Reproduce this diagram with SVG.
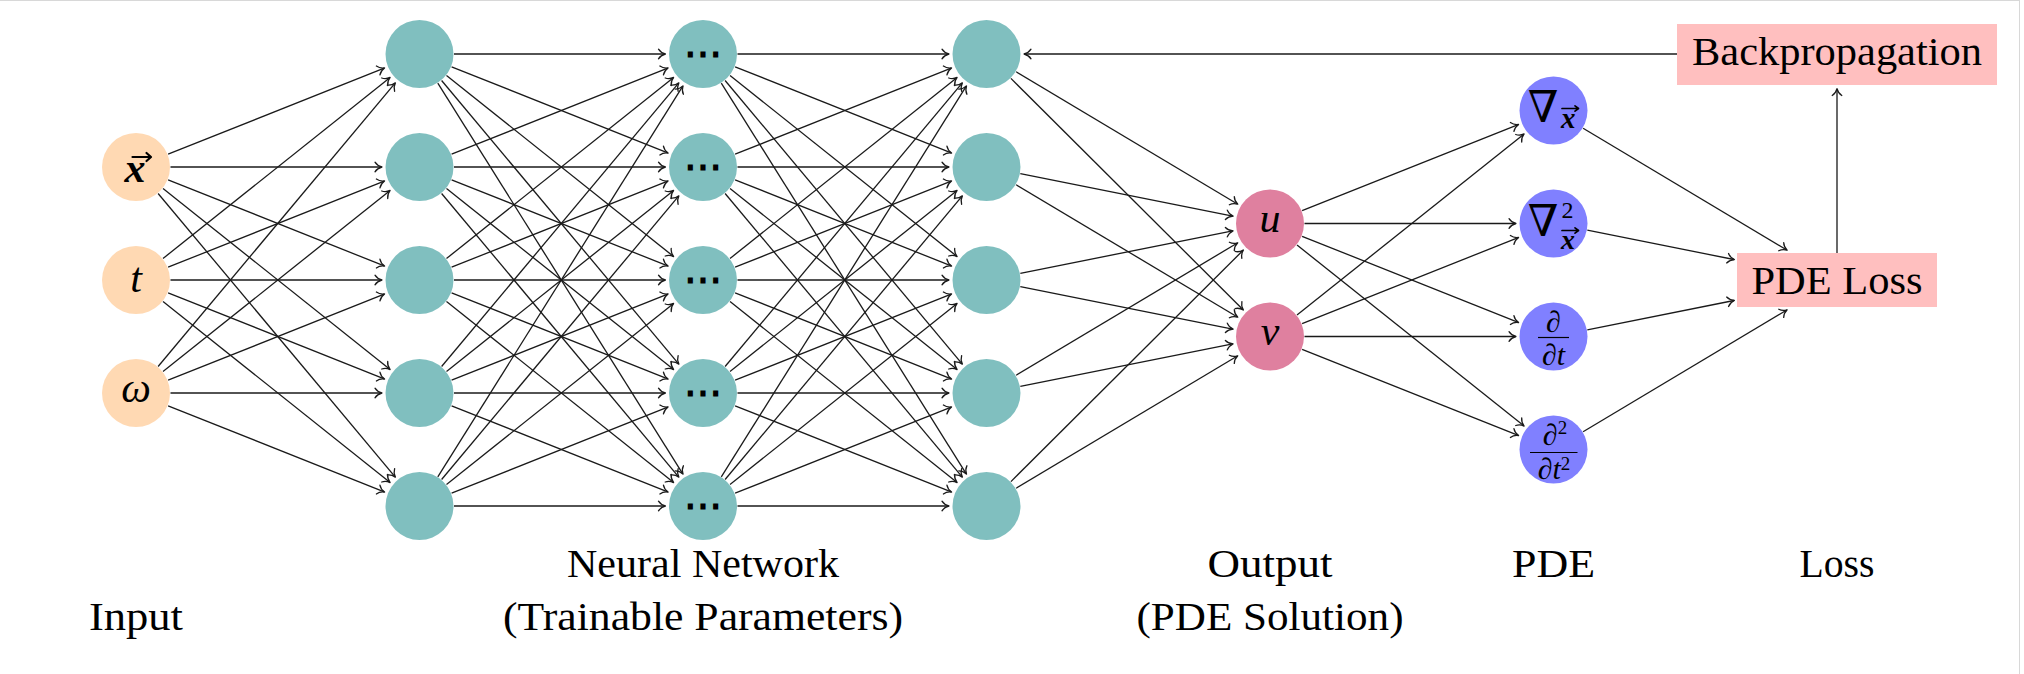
<svg xmlns="http://www.w3.org/2000/svg" width="2024" height="674" viewBox="0 0 2024 674">
<defs>
<marker id="to" viewBox="-10 -7 12 14" refX="0" refY="0" markerWidth="12" markerHeight="14" orient="auto" markerUnits="userSpaceOnUse" overflow="visible">
<path d="M -6.5,-4.8 C -5,-2.4 -1.2,-0.4 0.4,0 C -1.2,0.4 -5,2.4 -6.5,4.8" fill="none" stroke="#1a1a1a" stroke-width="1.3" stroke-linecap="round" stroke-linejoin="round"/>
</marker>
<style>
.edge line{stroke:#1a1a1a;stroke-width:1.3;marker-end:url(#to)}
.in{fill:#FFD9B3}
.hid{fill:#80BFBF}
.out{fill:#DF809F}
.pde{fill:#8080FF}
.box{fill:#FFBFBF}
.lbl{font-family:"Liberation Serif","Times New Roman",serif;font-size:40px;fill:#000;text-anchor:middle}
.mi{font-family:"Liberation Serif","Times New Roman",serif;font-style:italic;font-size:42px;fill:#000;text-anchor:middle}
.vec{font-family:"Liberation Serif","Times New Roman",serif;font-style:italic;font-weight:bold;fill:#000}
.va{fill:none;stroke:#000;stroke-linecap:round;stroke-linejoin:round}
.nab{font-family:"DejaVu Serif",serif;font-size:44px;fill:#000;text-anchor:end}
.fr{font-family:"Liberation Serif","DejaVu Serif",serif;font-style:italic;font-size:30px;fill:#000;text-anchor:middle}
.sup{font-family:"Liberation Serif","DejaVu Serif",serif;font-style:normal;font-weight:normal;fill:#000}
.dots{font-family:"DejaVu Serif",serif;font-size:38px;font-weight:bold;fill:#000;text-anchor:middle}
.bar{stroke:#000;stroke-width:1.2}
</style>
</defs>
<rect x="0" y="0" width="2024" height="674" fill="#fff"/>
<line x1="0" y1="0.5" x2="2020" y2="0.5" stroke="#d8d8d8" stroke-width="1"/>
<line x1="2019.5" y1="0" x2="2019.5" y2="674" stroke="#d8d8d8" stroke-width="1"/>

<g id="connectors" class="edge">
<!-- input -> layer 1 -->
<line x1="168.1" y1="154.2" x2="384.2" y2="68.1"/>
<line x1="170.5" y1="167" x2="381.5" y2="167"/>
<line x1="168.1" y1="179.8" x2="384.2" y2="265.9"/>
<line x1="163" y1="188.5" x2="389.8" y2="369.3"/>
<line x1="158.1" y1="193.5" x2="395.1" y2="476.8"/>
<line x1="163" y1="258.5" x2="389.8" y2="77.7"/>
<line x1="168.1" y1="267.2" x2="384.2" y2="181.1"/>
<line x1="170.5" y1="280" x2="381.5" y2="280"/>
<line x1="168.1" y1="292.8" x2="384.2" y2="378.9"/>
<line x1="163" y1="301.5" x2="389.8" y2="482.3"/>
<line x1="158.1" y1="366.5" x2="395.1" y2="83.2"/>
<line x1="163" y1="371.5" x2="389.8" y2="190.7"/>
<line x1="168.1" y1="380.2" x2="384.2" y2="294.1"/>
<line x1="170.5" y1="393" x2="381.5" y2="393"/>
<line x1="168.1" y1="405.8" x2="384.2" y2="491.9"/>
<!-- layer 1 -> layer 2 -->
<line x1="454" y1="54" x2="665" y2="54"/>
<line x1="451.6" y1="66.8" x2="667.7" y2="152.9"/>
<line x1="446.5" y1="75.5" x2="673.3" y2="256.3"/>
<line x1="441.6" y1="80.5" x2="678.6" y2="363.8"/>
<line x1="437.8" y1="83.2" x2="682.8" y2="473.8"/>
<line x1="451.6" y1="154.2" x2="667.7" y2="68.1"/>
<line x1="454" y1="167" x2="665" y2="167"/>
<line x1="451.6" y1="179.8" x2="667.7" y2="265.9"/>
<line x1="446.5" y1="188.5" x2="673.3" y2="369.3"/>
<line x1="441.6" y1="193.5" x2="678.6" y2="476.8"/>
<line x1="446.5" y1="258.5" x2="673.3" y2="77.7"/>
<line x1="451.6" y1="267.2" x2="667.7" y2="181.1"/>
<line x1="454" y1="280" x2="665" y2="280"/>
<line x1="451.6" y1="292.8" x2="667.7" y2="378.9"/>
<line x1="446.5" y1="301.5" x2="673.3" y2="482.3"/>
<line x1="441.6" y1="366.5" x2="678.6" y2="83.2"/>
<line x1="446.5" y1="371.5" x2="673.3" y2="190.7"/>
<line x1="451.6" y1="380.2" x2="667.7" y2="294.1"/>
<line x1="454" y1="393" x2="665" y2="393"/>
<line x1="451.6" y1="405.8" x2="667.7" y2="491.9"/>
<line x1="437.8" y1="476.8" x2="682.8" y2="86.2"/>
<line x1="441.6" y1="479.5" x2="678.6" y2="196.2"/>
<line x1="446.5" y1="484.5" x2="673.3" y2="303.7"/>
<line x1="451.6" y1="493.2" x2="667.7" y2="407.1"/>
<line x1="454" y1="506" x2="665" y2="506"/>
<!-- layer 2 -> layer 3 -->
<line x1="737.5" y1="54" x2="948.5" y2="54"/>
<line x1="735.1" y1="66.8" x2="951.2" y2="152.9"/>
<line x1="730" y1="75.5" x2="956.8" y2="256.3"/>
<line x1="725.1" y1="80.5" x2="962.1" y2="363.8"/>
<line x1="721.3" y1="83.2" x2="966.3" y2="473.8"/>
<line x1="735.1" y1="154.2" x2="951.2" y2="68.1"/>
<line x1="737.5" y1="167" x2="948.5" y2="167"/>
<line x1="735.1" y1="179.8" x2="951.2" y2="265.9"/>
<line x1="730" y1="188.5" x2="956.8" y2="369.3"/>
<line x1="725.1" y1="193.5" x2="962.1" y2="476.8"/>
<line x1="730" y1="258.5" x2="956.8" y2="77.7"/>
<line x1="735.1" y1="267.2" x2="951.2" y2="181.1"/>
<line x1="737.5" y1="280" x2="948.5" y2="280"/>
<line x1="735.1" y1="292.8" x2="951.2" y2="378.9"/>
<line x1="730" y1="301.5" x2="956.8" y2="482.3"/>
<line x1="725.1" y1="366.5" x2="962.1" y2="83.2"/>
<line x1="730" y1="371.5" x2="956.8" y2="190.7"/>
<line x1="735.1" y1="380.2" x2="951.2" y2="294.1"/>
<line x1="737.5" y1="393" x2="948.5" y2="393"/>
<line x1="735.1" y1="405.8" x2="951.2" y2="491.9"/>
<line x1="721.3" y1="476.8" x2="966.3" y2="86.2"/>
<line x1="725.1" y1="479.5" x2="962.1" y2="196.2"/>
<line x1="730" y1="484.5" x2="956.8" y2="303.7"/>
<line x1="735.1" y1="493.2" x2="951.2" y2="407.1"/>
<line x1="737.5" y1="506" x2="948.5" y2="506"/>
<!-- layer 3 -> outputs -->
<line x1="1016.1" y1="71.7" x2="1237.4" y2="204"/>
<line x1="1020.3" y1="173.7" x2="1232.7" y2="216.1"/>
<line x1="1020.3" y1="273.3" x2="1232.7" y2="230.9"/>
<line x1="1016.1" y1="375.3" x2="1237.4" y2="243"/>
<line x1="1010.9" y1="481.6" x2="1243.1" y2="250.3"/>
<line x1="1010.9" y1="78.4" x2="1243.1" y2="309.7"/>
<line x1="1016.1" y1="184.7" x2="1237.4" y2="317"/>
<line x1="1020.3" y1="286.7" x2="1232.7" y2="329.1"/>
<line x1="1020.3" y1="386.3" x2="1232.7" y2="343.9"/>
<line x1="1016.1" y1="488.3" x2="1237.4" y2="356"/>
<!-- outputs -> PDE -->
<line x1="1302.1" y1="210.7" x2="1518.2" y2="124.6"/>
<line x1="1304.5" y1="223.5" x2="1515.5" y2="223.5"/>
<line x1="1302.1" y1="236.3" x2="1518.2" y2="322.4"/>
<line x1="1297" y1="245" x2="1523.8" y2="425.8"/>
<line x1="1297" y1="315" x2="1523.8" y2="134.2"/>
<line x1="1302.1" y1="323.7" x2="1518.2" y2="237.6"/>
<line x1="1304.5" y1="336.5" x2="1515.5" y2="336.5"/>
<line x1="1302.1" y1="349.3" x2="1518.2" y2="435.4"/>
<!-- PDE -> loss -->
<line x1="1583.1" y1="128.2" x2="1786.8" y2="250"/>
<line x1="1587.3" y1="230.2" x2="1734" y2="259.5"/>
<line x1="1587.3" y1="329.8" x2="1734" y2="300.5"/>
<line x1="1583.1" y1="431.8" x2="1786.8" y2="310"/>
<!-- loss -> backpropagation -> network -->
<line x1="1837" y1="253" x2="1837" y2="89"/>
<line x1="1677" y1="54" x2="1024.5" y2="54"/>
</g>

<g id="n-in-x"><circle class="in" cx="136" cy="167" r="34"/><text class="vec" x="135" y="181.5" font-size="42" text-anchor="middle">x</text><path class="va" stroke-width="2.2" d="M 132.5,157 H 150.5 M 146.5,153 L 151,157 L 146.5,161"/></g>
<g id="n-in-t"><circle class="in" cx="136" cy="280" r="34"/><text class="mi" x="136" y="292">t</text></g>
<g id="n-in-w"><circle class="in" cx="136" cy="393" r="34"/><text class="mi" x="136" y="401.5">ω</text></g>

<g id="n-h1-1"><circle class="hid" cx="419.5" cy="54" r="34"/></g>
<g id="n-h1-2"><circle class="hid" cx="419.5" cy="167" r="34"/></g>
<g id="n-h1-3"><circle class="hid" cx="419.5" cy="280" r="34"/></g>
<g id="n-h1-4"><circle class="hid" cx="419.5" cy="393" r="34"/></g>
<g id="n-h1-5"><circle class="hid" cx="419.5" cy="506" r="34"/></g>

<g id="n-h2-1"><circle class="hid" cx="703" cy="54" r="34"/><text class="dots" x="703" y="67">⋯</text></g>
<g id="n-h2-2"><circle class="hid" cx="703" cy="167" r="34"/><text class="dots" x="703" y="180">⋯</text></g>
<g id="n-h2-3"><circle class="hid" cx="703" cy="280" r="34"/><text class="dots" x="703" y="293">⋯</text></g>
<g id="n-h2-4"><circle class="hid" cx="703" cy="393" r="34"/><text class="dots" x="703" y="406">⋯</text></g>
<g id="n-h2-5"><circle class="hid" cx="703" cy="506" r="34"/><text class="dots" x="703" y="519">⋯</text></g>

<g id="n-h3-1"><circle class="hid" cx="986.5" cy="54" r="34"/></g>
<g id="n-h3-2"><circle class="hid" cx="986.5" cy="167" r="34"/></g>
<g id="n-h3-3"><circle class="hid" cx="986.5" cy="280" r="34"/></g>
<g id="n-h3-4"><circle class="hid" cx="986.5" cy="393" r="34"/></g>
<g id="n-h3-5"><circle class="hid" cx="986.5" cy="506" r="34"/></g>

<g id="n-out-u"><circle class="out" cx="1270" cy="223.5" r="34"/><text class="mi" x="1270" y="232">u</text></g>
<g id="n-out-v"><circle class="out" cx="1270" cy="336.5" r="34"/><text class="mi" x="1270" y="345">v</text></g>

<g id="n-pde-grad"><circle class="pde" cx="1553.5" cy="110.5" r="34"/><text class="nab" x="1558.5" y="122">∇</text><text class="vec" x="1561" y="127.5" font-size="29">x</text><path class="va" stroke-width="1.7" d="M 1562,108.5 H 1578 M 1575,105.8 L 1578.5,108.5 L 1575,111.2"/></g>
<g id="n-pde-lap"><circle class="pde" cx="1553.5" cy="223.5" r="34"/><text class="nab" x="1558.5" y="235.5">∇</text><text class="sup" x="1561.5" y="217.5" font-size="24">2</text><text class="vec" x="1561" y="248.5" font-size="28">x</text><path class="va" stroke-width="1.7" d="M 1562,230.5 H 1578 M 1575,227.8 L 1578.5,230.5 L 1575,233.2"/></g>
<g id="n-pde-dt"><circle class="pde" cx="1553.5" cy="336.5" r="34"/><text class="fr" x="1553.5" y="331.5">∂</text><line class="bar" x1="1538" y1="337.5" x2="1569" y2="337.5"/><text class="fr" x="1553.5" y="365">∂t</text></g>
<g id="n-pde-dtt"><circle class="pde" cx="1553.5" cy="449.5" r="34"/><text class="fr" x="1555" y="445">∂<tspan class="sup" dy="-11" font-size="19">2</tspan></text><line class="bar" x1="1530" y1="452.5" x2="1577.5" y2="452.5"/><text class="fr" x="1554" y="478.5">∂t<tspan class="sup" dy="-9" font-size="19">2</tspan></text></g>

<g id="n-loss"><rect class="box" x="1737" y="253" width="200" height="54"/><text class="lbl" x="1837" y="293.5" textLength="171" lengthAdjust="spacingAndGlyphs">PDE Loss</text></g>
<g id="n-backprop"><rect class="box" x="1677" y="24" width="320" height="61"/><text class="lbl" x="1837" y="64.5" textLength="290" lengthAdjust="spacingAndGlyphs">Backpropagation</text></g>

<g id="labels">
<text class="lbl" x="136" y="629.5" textLength="94" lengthAdjust="spacingAndGlyphs">Input</text>
<text class="lbl" x="703" y="577" textLength="272" lengthAdjust="spacingAndGlyphs">Neural Network</text>
<text class="lbl" x="703" y="629.5" textLength="400" lengthAdjust="spacingAndGlyphs">(Trainable Parameters)</text>
<text class="lbl" x="1270" y="577" textLength="125" lengthAdjust="spacingAndGlyphs">Output</text>
<text class="lbl" x="1270" y="629.5" textLength="267" lengthAdjust="spacingAndGlyphs">(PDE Solution)</text>
<text class="lbl" x="1553.5" y="577" textLength="83" lengthAdjust="spacingAndGlyphs">PDE</text>
<text class="lbl" x="1837" y="577" textLength="75" lengthAdjust="spacingAndGlyphs">Loss</text>
</g>
</svg>
